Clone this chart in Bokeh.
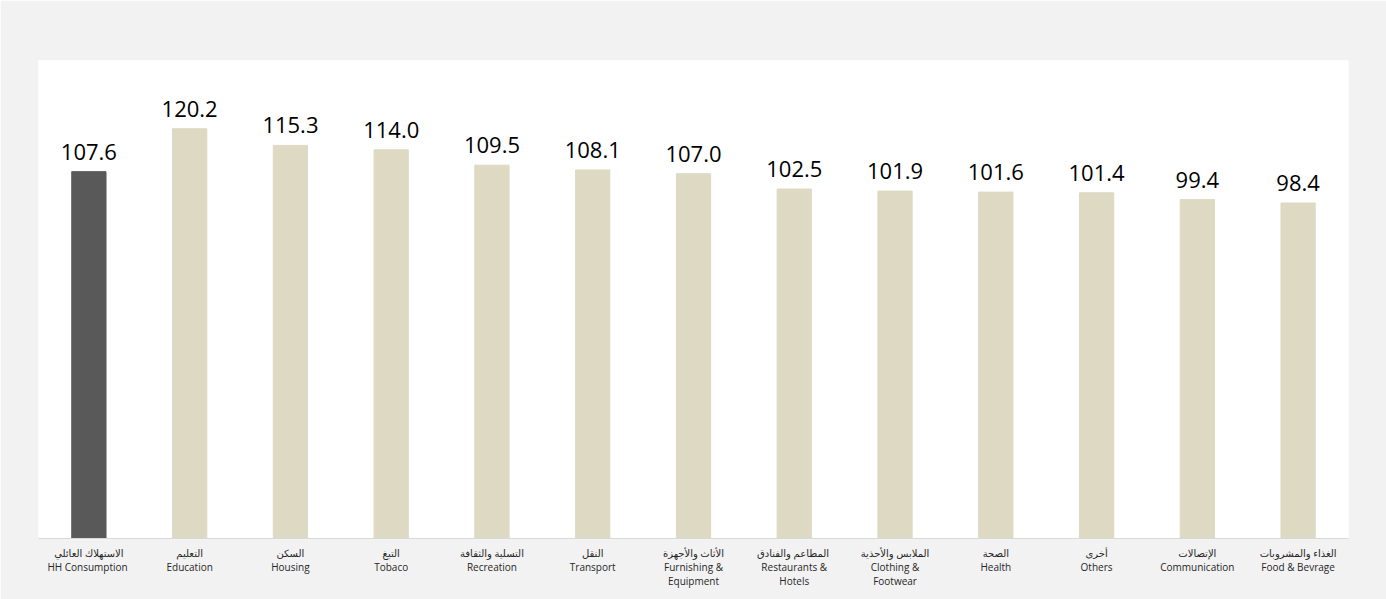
from bokeh.plotting import figure
from bokeh.models import ColumnDataSource, Range1d
from bokeh.embed import file_html
from bokeh.resources import INLINE
from bokeh.core.properties import value

labels_ar = ["الاستهلاك العائلي", "التعليم", "السكن", "التبغ", "التسلية والثقافة", "النقل",
             "الأثاث والأجهزة", "المطاعم  والفنادق", "الملابس والأحذية", "الصحة", "أخرى",
             "الإتصالات", "الغذاء والمشروبات"]
labels_en = ["HH  Consumption", "Education", "Housing", "Tobaco", "Recreation", "Transport",
             "Furnishing &\nEquipment", "Restaurants &\nHotels", "Clothing &\nFootwear",
             "Health", "Others", "Communication", "Food & Bevrage"]
values = [107.6, 120.2, 115.3, 114.0, 109.5, 108.1, 107.0, 102.5, 101.9, 101.6, 101.4, 99.4, 98.4]
colors = ["#595959"] + ["#ddd9c3"] * 12

factors = [a + "\n" + e for a, e in zip(labels_ar, labels_en)]

src = ColumnDataSource(dict(x=factors, top=values, color=colors,
                            label=[f"{v:.1f}" for v in values]))

p = figure(x_range=factors, width=1386, height=599, output_backend="svg",
           toolbar_location=None, min_border_left=38, min_border_right=38,
           min_border_top=60, min_border_bottom=61)
p.y_range = Range1d(0, 140.2)
p.background_fill_color = "white"
p.border_fill_color = "#f2f2f2"
p.outline_line_color = None
p.xgrid.grid_line_color = None
p.ygrid.grid_line_color = None
p.yaxis.visible = False
p.x_range.range_padding = 0

p.vbar(x="x", top="top", width=0.34, color="color", source=src)
p.text(x="x", y="top", text="label", source=src, text_align="center",
       text_baseline="bottom", y_offset=-12, text_font_size="22px",
       text_font=value("Open Sans"), text_color="#000000")

xa = p.xaxis[0]
xa.axis_line_color = "#d9d9d9"
xa.major_tick_line_color = None
xa.minor_tick_line_color = None
xa.major_label_standoff = 1
xa.major_label_text_font = "Open Sans, DejaVu Sans"
xa.major_label_text_font_size = "10px"
xa.major_label_text_line_height = 1.02
xa.major_label_text_color = "#262626"

open("out.html", "w").write(file_html(p, INLINE))
